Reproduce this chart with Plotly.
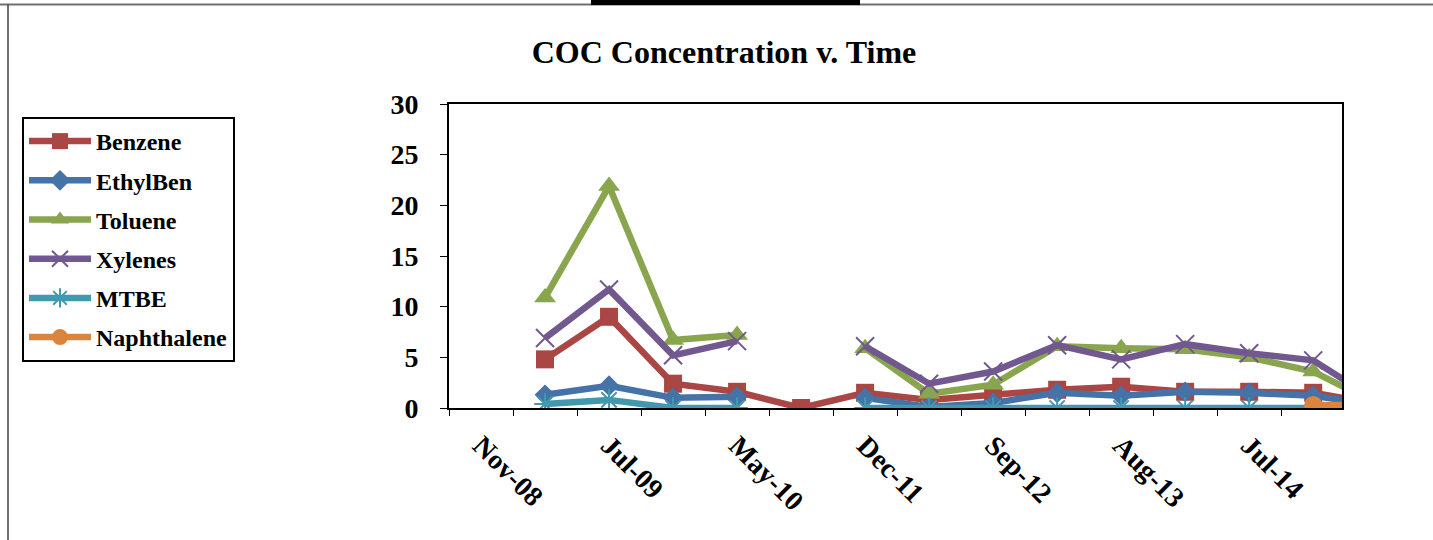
import plotly.graph_objects as go

# Sampling events (category axis; every other one is labelled)
sample_dates = ["Nov-08", "Mar-09", "Jul-09", "Dec-09", "May-10", "Feb-11", "Dec-11",
                "Apr-12", "Sep-12", "Feb-13", "Aug-13", "Jan-14", "Jul-14", "Jan-15", "Jul-15"]

# Concentrations per sampling event (None = not sampled / not reported)
benzene = [None, 4.8, 9.0, 2.4, 1.6, 0.0, 1.5, 0.8, 1.3, 1.8, 2.1, 1.6, 1.6, 1.5, 0.4]
ethylben = [None, 1.3, 2.2, 1.0, 1.1, None, 1.0, 0.1, 0.5, 1.5, 1.2, 1.6, 1.5, 1.2, 0.3]
toluene = [None, 10.9, 21.9, 6.7, 7.2, None, 5.9, 1.4, 2.3, 6.1, 5.9, 5.8, 5.0, 3.6, 0.4]
xylenes = [None, 6.9, 11.7, 5.2, 6.6, None, 6.1, 2.4, 3.6, 6.2, 4.8, 6.3, 5.4, 4.7, 0.7]
mtbe = [None, 0.4, 0.8, 0.0, 0.0, None, 0.0, 0.0, 0.0, 0.0, 0.0, 0.0, 0.0, 0.0, 0.0]
naphthalene = [None] * 13 + [0.3, 0.3]

y_ticks = [0, 5, 10, 15, 20, 25, 30]

series = [
    ("Benzene", benzene, "#AA4643", dict(symbol="square", size=18)),
    ("EthylBen", ethylben, "#4572A7", dict(symbol="diamond", size=16)),
    ("Toluene", toluene, "#89A54E", dict(symbol="triangle-up", size=19)),
    ("Xylenes", xylenes, "#71588F", dict(symbol="x-thin-open", size=18)),
    ("MTBE", mtbe, "#4198AF", dict(symbol="asterisk-open", size=18)),
    ("Naphthalene", naphthalene, "#DB843D", dict(symbol="circle", size=18)),
]

idx = list(range(len(sample_dates)))
FONT = "Liberation Serif"

fig = go.Figure()
for name, vals, color, mk in series:
    marker = dict(color=color, **mk)
    if mk["symbol"].endswith("-open"):
        marker["line"] = dict(color=color, width=2)
    fig.add_trace(go.Scatter(
        x=idx, y=vals, name=name, mode="lines+markers",
        line=dict(color=color, width=6.5),
        marker=marker, connectgaps=False, legendgroup=name,
    ))

W, H = 1433, 540
L, R, T, B = 449, 91, 104, 132
pw, ph = W - L - R, H - T - B


def px_x(x):
    return (x - L) / pw


def px_y(y):
    return (H - B - y) / ph


shapes = [
    # outer frame of the chart area
    dict(type="line", xref="paper", yref="paper", x0=px_x(0), x1=px_x(W), y0=px_y(4.5), y1=px_y(4.5),
         line=dict(color="#6f6f6f", width=2)),
    dict(type="line", xref="paper", yref="paper", x0=px_x(8), x1=px_x(8), y0=px_y(4.5), y1=px_y(H),
         line=dict(color="#404040", width=1.5)),
    dict(type="rect", xref="paper", yref="paper", x0=px_x(591), x1=px_x(860), y0=px_y(0), y1=px_y(5),
         line=dict(width=0), fillcolor="black"),
]

fig.update_layout(
    width=W, height=H,
    margin=dict(l=L, r=R, t=T, b=B),
    paper_bgcolor="white", plot_bgcolor="white",
    title=dict(text="COC Concentration v. Time", x=724 / W, xanchor="center",
               y=1 - 52 / H, yanchor="middle", yref="container",
               font=dict(family=FONT, size=32, color="black", weight="bold")),
    showlegend=True,
    legend=dict(x=px_x(22), y=px_y(117), xanchor="left", yanchor="top",
                bordercolor="black", borderwidth=2, bgcolor="white",
                font=dict(family=FONT, size=24, color="black", weight="bold"),
                tracegroupgap=5, itemwidth=62),
    shapes=shapes,
)

fig.update_xaxes(
    range=[-0.5, 13.45], showgrid=False, zeroline=False,
    tickmode="array", tickvals=idx[::2], ticktext=sample_dates[::2],
    tickangle=45, ticks="", ticklabelstandoff=8,
    tickfont=dict(family=FONT, size=28, color="black", weight="bold"),
    showline=True, linecolor="black", linewidth=2, mirror=True,
    minor=dict(tickmode="array", tickvals=[i - 0.5 for i in idx], ticks="outside",
               ticklen=6, tickcolor="black", tickwidth=1),
)
fig.update_yaxes(
    range=[0, 30], tickvals=y_ticks, showgrid=False, zeroline=False,
    ticks="outside", ticklen=7, tickcolor="black", tickwidth=1, ticklabelstandoff=16,
    tickfont=dict(family=FONT, size=28, color="black", weight="bold"),
    showline=True, linecolor="black", linewidth=2, mirror=True,
)

fig.write_html("out.html")
